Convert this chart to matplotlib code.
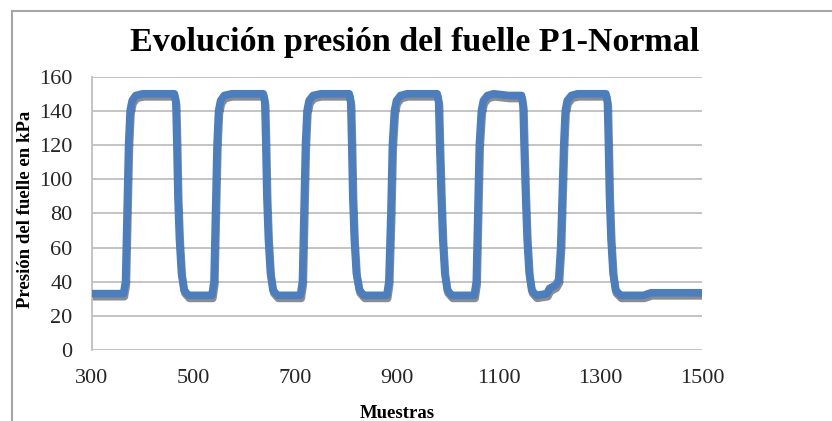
import matplotlib
matplotlib.use("Agg")
import matplotlib.pyplot as plt
import matplotlib.patheffects as pe
from matplotlib.lines import Line2D

# ---- data ----
muestras = [300, 362, 366, 369, 372, 375, 379, 386, 400, 462, 465, 467, 469, 472, 476, 481, 490,
            536, 540, 543, 546, 549, 553, 560, 575, 637, 640, 642, 644, 647, 651, 656, 665,
            710, 714, 717, 720, 723, 727, 735, 750, 806, 809, 811, 813, 816, 820, 826, 835,
            880, 884, 888, 891, 895, 899, 907, 920, 979, 982, 984, 987, 990, 994, 999, 1008,
            1052, 1056, 1059, 1062, 1066, 1070, 1078, 1090, 1120, 1145, 1148, 1150, 1153, 1156, 1160, 1165, 1174,
            1195, 1200, 1212, 1218, 1222, 1225, 1228, 1231, 1235, 1243, 1255, 1311, 1314, 1316, 1318, 1321, 1325, 1330, 1340,
            1385, 1400, 1500]
presion = [33, 33, 40, 80, 120, 140, 146, 149, 150, 150, 145, 120, 90, 65, 45, 35, 32,
           32, 40, 80, 120, 140, 146, 149, 150, 150, 145, 120, 90, 65, 45, 35, 32,
           32, 40, 80, 120, 140, 146, 149, 150, 150, 145, 120, 90, 65, 45, 35, 32,
           32, 40, 80, 120, 140, 146, 149, 150, 150, 145, 120, 90, 65, 45, 35, 32,
           32, 40, 80, 120, 140, 146, 149, 150, 149, 149, 143, 120, 90, 65, 45, 35, 32,
           33, 36, 38, 41, 60, 90, 120, 140, 146, 149, 150, 150, 145, 120, 90, 65, 45, 35, 32,
           32, 33.5, 33.5]
xticks = [300, 500, 700, 900, 1100, 1300, 1500]
yticks = [0, 20, 40, 60, 80, 100, 120, 140, 160]

titulo = "Evolución presión del fuelle P1-Normal"
etiqueta_x = "Muestras"
etiqueta_y = "Presión del fuelle en kPa"

serif = ["Liberation Serif", "DejaVu Serif"]

W, H = 832, 421
fig = plt.figure(figsize=(W / 100, H / 100), dpi=100)
fig.patch.set_facecolor("white")

# outer chart border (top and left visible)
fig.add_artist(Line2D([12 / W, 1], [1 - 11 / H, 1 - 11 / H], color="#a6a6a6", lw=1.5))
fig.add_artist(Line2D([12 / W, 12 / W], [0, 1 - 11 / H], color="#a6a6a6", lw=1.5))

left, right = 92 / W, 702 / W
bottom, top = 1 - 350 / H, 1 - 76.7 / H
ax = fig.add_axes([left, bottom, right - left, top - bottom])

ax.plot(muestras, presion, color="#4a7ebf", lw=5.5, solid_capstyle="butt", solid_joinstyle="round",
        path_effects=[pe.SimpleLineShadow(offset=(0.6, -2.2), shadow_color="black", alpha=0.45),
                      pe.Normal()], zorder=3)

ax.set_xlim(300, 1500)
ax.set_ylim(0, 160)
ax.set_xticks(xticks)
ax.set_yticks(yticks)
ax.yaxis.grid(True, color="#bfbfbf", lw=1.3)
ax.set_axisbelow(True)
for s in ["top", "right", "bottom"]:
    ax.spines[s].set_visible(False)
ax.spines["left"].set_color("#bfbfbf")
ax.spines["left"].set_linewidth(1.3)
ax.tick_params(axis="both", length=0, labelsize=16, labelcolor="#262626")
ax.tick_params(axis="x", pad=14)
ax.tick_params(axis="y", pad=14)
for lab in ax.get_xticklabels() + ax.get_yticklabels():
    lab.set_family(serif)

fig.text(415 / W, 1 - 42 / H, titulo, ha="center", va="center", fontsize=24.5,
         fontweight="bold", family=serif, color="black")
fig.text(397 / W, 1 - 413 / H, etiqueta_x, ha="center", va="center", fontsize=13.5,
         fontweight="bold", family=serif, color="black")
fig.text(26 / W, 1 - 209 / H, etiqueta_y, ha="center", va="center", fontsize=13.5,
         fontweight="bold", family=serif, rotation=90, color="black")

fig.savefig("out.png", dpi=100)
